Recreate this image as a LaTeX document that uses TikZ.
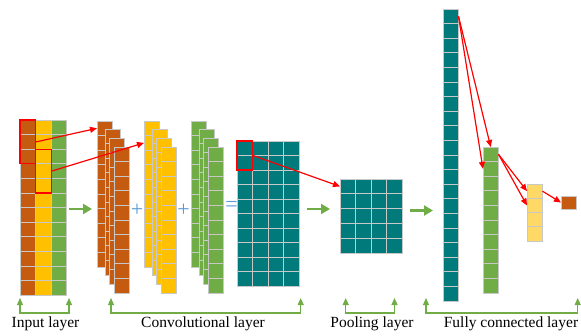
\documentclass[tikz,border=0pt]{standalone}
\usepackage{fontspec}
\setmainfont{Liberation Serif}
\usepackage{xcolor}
\usepackage{tikz}
\usetikzlibrary{arrows.meta,positioning,calc,fit}
\definecolor{cnnorange}{RGB}{197,90,17}
\definecolor{cnnyellow}{RGB}{255,192,0}
\definecolor{cnngreen}{RGB}{112,173,71}
\definecolor{cnnteal}{RGB}{0,122,122}
\definecolor{cnnlight}{RGB}{255,217,102}
\definecolor{cnnline}{RGB}{200,200,200}
\definecolor{cnnblue}{RGB}{91,155,213}
\tikzset{
  cnncell/.style={draw=cnnline, line width=0.9pt, minimum width=15.5pt, minimum height=14.6pt, inner sep=0pt, outer sep=0pt, anchor=north west},
  cnnred/.style={draw=red, line width=1.1pt, inner sep=0pt},
  cnnarrow/.style={-{Triangle[length=7pt,width=6pt]}, draw=red, line width=1.2pt},
  cnnflow/.style={-{Triangle[length=9pt,width=10pt]}, draw=cnngreen, line width=2.4pt},
  cnnbrace/.style={{Triangle[length=7pt,width=6pt]}-{Triangle[length=7pt,width=6pt]}, draw=cnngreen, line width=1.2pt},
  cnnop/.style={text=cnnblue, font=\fontsize{22}{22}\selectfont, inner sep=0pt},
  cnnlabel/.style={anchor=base, font=\fontsize{15.5}{18}\selectfont, inner sep=0pt}
}
\begin{document}
\begin{tikzpicture}[x=1pt,y=-1pt]
  \useasboundingbox (0,0) rectangle (581,335);

  % input layer
  \foreach \clr/\nm [count=\i from 0] in {cnnorange/io, cnnyellow/iy, cnngreen/ig}
    \foreach \r in {1,...,12}
      \node[cnncell, fill=\clr] (\nm-\r) at ({20+\i*15.6},{120+(\r-1)*14.6}) {};
  \node[cnnred, fit=(io-1)(io-3)] (rb1) {};
  \node[cnnred, fit=(iy-3)(iy-5)] (rb2) {};

  % convolution stacks
  \foreach \clr/\xb/\nm in {cnnorange/97/co, cnnyellow/144/cy, cnngreen/191/cg}
    \foreach \dx/\dy [count=\s] in {0/0,8/8,12/17,17/26}
      \foreach \r in {1,...,10}
        \node[cnncell, fill=\clr] (\nm\s-\r) at ({\xb+\dx},{121+\dy+(\r-1)*14.6}) {};
  \node[cnnop] (plus1) at (137,210) {+};
  \node[cnnop] (plus2) at (183.5,210) {+};
  \node[cnnop] (eqs) at (231.5,206) {=};

  % feature map
  \foreach \cc in {1,...,4}
    \foreach \r in {1,...,10}
      \node[cnncell, fill=cnnteal, minimum height=14.5pt] (t\cc-\r) at ({237+(\cc-1)*15.5},{141+(\r-1)*14.5}) {};
  \node[cnnred, fit=(t1-1)(t1-2)] (rb3) {};

  % pooling
  \foreach \cc in {1,...,4}
    \foreach \r in {1,...,5}
      \node[cnncell, fill=cnnteal, minimum height=14.8pt] (p\cc-\r) at ({340+(\cc-1)*15.5},{179+(\r-1)*14.8}) {};

  % fully connected
  \foreach \r in {1,...,20}
    \node[cnncell, fill=cnnteal] (f1-\r) at (443,{9+(\r-1)*14.6}) {};
  \foreach \r in {1,...,10}
    \node[cnncell, fill=cnngreen] (f2-\r) at (483,{147+(\r-1)*14.6}) {};
  \foreach \r in {1,...,4}
    \node[cnncell, fill=cnnlight, minimum height=14.3pt] (f3-\r) at (527,{184+(\r-1)*14.3}) {};
  \node[cnncell, fill=cnnorange, minimum height=13pt] (f4) at (561,196) {};

  \draw[cnnarrow] (rb1.east) -- (co1-1.west);
  \draw[cnnarrow] (rb2.east) -- (cy1-2.west);
  \draw[cnnarrow] (rb3.east) -- (p1-1.west);
  \draw[cnnarrow] (f1-1.east) -- (f2-1.north);
  \draw[cnnarrow] (f1-1.east) -- (f2-2.west);
  \draw[cnnarrow] (f2-1.east) -- (f3-1.west);
  \draw[cnnarrow] (f2-1.east) -- (f3-2.west);
  \draw[cnnarrow] (f3-1.east) -- (f4.west);

  \coordinate (g1a) at (69,209);    \coordinate (g1b) at (92,209);
  \coordinate (g2a) at (307,209);   \coordinate (g2b) at (330,209);
  \coordinate (g3a) at (410,210.5); \coordinate (g3b) at (433,210.5);
  \draw[cnnflow] (g1a) -- (g1b);
  \draw[cnnflow] (g2a) -- (g2b);
  \draw[cnnflow] (g3a) -- (g3b);

  % brackets and labels
  \foreach \l/\rr/\nm in {20/69/b1, 111/300.7/b2, 345.7/394.5/b3, 426/577.7/b4} {
    \coordinate (\nm l) at (\l,298);
    \coordinate (\nm r) at (\rr,298);
    \draw[cnnbrace] (\nm l) -- ++(0,15) -| (\nm r);
  }
  \node[cnnlabel] (lin) at (45.5,327) {Input layer};
  \node[cnnlabel] (lconv) at (203,327) {Convolutional layer};
  \node[cnnlabel] (lpool) at (372,327) {Pooling layer};
  \node[cnnlabel] (lfc) at (511,327) {Fully connected layer};
\end{tikzpicture}
\end{document}
